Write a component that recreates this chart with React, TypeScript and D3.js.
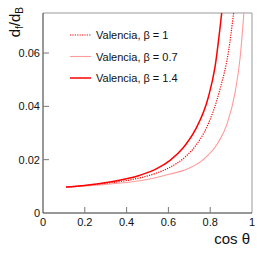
import { useMemo } from "react";
import * as d3 from "d3";

const xTicks = [0, 0.2, 0.4, 0.6, 0.8, 1];
const yTicks = [0, 0.02, 0.04, 0.06];

const cosBeta1 = [0.11, 0.2, 0.32, 0.464, 0.544, 0.608, 0.679, 0.735, 0.783, 0.847, 0.887, 0.912];
const ratioBeta1 = [0.00975, 0.0103, 0.01126, 0.01319, 0.015, 0.01715, 0.02093, 0.02573, 0.0321, 0.0465, 0.0603, 0.075];

const cosBeta07 = [0.11, 0.2, 0.32, 0.464, 0.544, 0.608, 0.69, 0.767, 0.839, 0.879, 0.919, 0.943, 0.962];
const ratioBeta07 = [0.0097, 0.0101, 0.0109, 0.0121, 0.0133, 0.0146, 0.01651, 0.02002, 0.02652, 0.03305, 0.04513, 0.0581, 0.0758];

const cosBeta14 = [0.11, 0.2, 0.32, 0.464, 0.544, 0.608, 0.671, 0.727, 0.791, 0.823, 0.855];
const ratioBeta14 = [0.00975, 0.01035, 0.0116, 0.01417, 0.01662, 0.01976, 0.02447, 0.03095, 0.0434, 0.0547, 0.075];

type Series = { label: string; xs: number[]; ys: number[]; color: string; width: number; dash?: string };

const series: Series[] = [
  { label: "Valencia, β = 1", xs: cosBeta1, ys: ratioBeta1, color: "#ff0000", width: 1.2, dash: "1.2,1.2" },
  { label: "Valencia, β = 0.7", xs: cosBeta07, ys: ratioBeta07, color: "#ff9a9a", width: 1.1 },
  { label: "Valencia, β = 1.4", xs: cosBeta14, ys: ratioBeta14, color: "#ff0000", width: 1.5 },
];

export default function App() {
  const width = 266;
  const height = 254;
  const margin = { left: 43, top: 13, right: 14, bottom: 41 };
  const font = "'Liberation Sans', Arial, sans-serif";

  const x = useMemo(() => d3.scaleLinear().domain([0, 1]).range([margin.left, width - margin.right]), []);
  const y = useMemo(() => d3.scaleLinear().domain([0, 0.075]).range([height - margin.bottom, margin.top]), []);

  const line = d3
    .line<[number, number]>()
    .x((d) => x(d[0]))
    .y((d) => y(d[1]))
    .curve(d3.curveMonotoneX);

  const x0 = x(0);
  const x1 = x(1);
  const y0 = y(0);
  const yTop = y(0.075);

  return (
    <div style={{ position: "absolute", left: 0, top: 0 }}>
      <svg width={width} height={height} style={{ display: "block", fontFamily: font }}>
        <rect width={width} height={height} fill="#fff" />
        <defs>
          <clipPath id="plot">
            <rect x={x0} y={yTop} width={x1 - x0} height={y0 - yTop} />
          </clipPath>
        </defs>
        {/* frame */}
        <line x1={x0} x2={x1} y1={yTop} y2={yTop} stroke="#999" />
        <line x1={x1} x2={x1} y1={yTop} y2={y0} stroke="#999" />
        <line x1={x0} x2={x0} y1={yTop} y2={y0} stroke="#333" />
        <line x1={x0} x2={x1} y1={y0} y2={y0} stroke="#333" />

        {xTicks.map((t) => (
          <g key={`x${t}`}>
            {t > 0 && t < 1 ? <line x1={x(t)} x2={x(t)} y1={y0} y2={y0 - 6} stroke="#777" /> : null}
            <text x={x(t)} y={y0 + 13} fontSize={11} textAnchor="middle" fill="#111">
              {d3.format("")(t)}
            </text>
          </g>
        ))}
        {yTicks.map((t) => (
          <g key={`y${t}`}>
            {t > 0 ? <line x1={x0} x2={x0 + 6} y1={y(t)} y2={y(t)} stroke="#777" /> : null}
            <text x={x0 - 3} y={y(t) + 4} fontSize={11} textAnchor="end" fill="#111">
              {t === 0 ? "0" : d3.format(".2f")(t)}
            </text>
          </g>
        ))}

        <text x={x1 - 2} y={244} fontSize={15} textAnchor="end" fill="#111">
          cos θ
        </text>
        <text transform={`translate(20, 7) rotate(-90)`} fontSize={15} textAnchor="end" fill="#111">
          d
          <tspan fontSize={10} dy={3}>f</tspan>
          <tspan dy={-3}>/d</tspan>
          <tspan fontSize={10} dy={3}>B</tspan>
        </text>

        <g clipPath="url(#plot)">
          {series.map((s) => (
            <path
              key={s.label}
              d={line(s.xs.map((v, i) => [v, s.ys[i]] as [number, number])) ?? ""}
              fill="none"
              stroke={s.color}
              strokeWidth={s.width}
              strokeDasharray={s.dash}
            />
          ))}
        </g>

        {series.map((s, i) => (
          <g key={`leg${i}`} transform={`translate(70, ${35 + i * 21.5})`}>
            <line x1={0} x2={21} y1={0} y2={0} stroke={s.color} strokeWidth={s.width} strokeDasharray={s.dash} />
            <text x={26} y={4} fontSize={11} fill="#111">
              {s.label}
            </text>
          </g>
        ))}
      </svg>
    </div>
  );
}
